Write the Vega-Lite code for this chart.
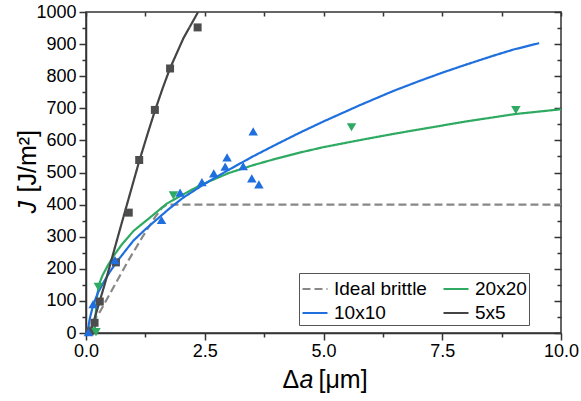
{
  "$schema": "https://vega.github.io/schema/vega-lite/v6.json",
  "width": 475,
  "height": 321,
  "autosize": {"type": "none"},
  "padding": {"left": 86, "top": 12, "right": 20, "bottom": 68},
  "config": {
    "view": {"stroke": "#333333", "strokeWidth": 1.5},
    "font": "Liberation Sans",
    "axis": {
      "grid": false,
      "domainColor": "#333333",
      "tickColor": "#333333",
      "domainWidth": 1.5,
      "tickWidth": 1.5,
      "labelFont": "Liberation Sans",
      "labelFontSize": 18,
      "labelColor": "#000000",
      "labelFlush": false,
      "labelOverlap": false,
      "titleFont": "Liberation Sans",
      "titleFontSize": 25,
      "titleColor": "#000000",
      "titleFontWeight": "normal"
    }
  },
  "datasets": {
    "curves": [
      {"series": "Ideal brittle", "a": 0, "J": 0},
      {"series": "Ideal brittle", "a": 0.3, "J": 68},
      {"series": "Ideal brittle", "a": 0.6, "J": 148},
      {"series": "Ideal brittle", "a": 0.9, "J": 228},
      {"series": "Ideal brittle", "a": 1.2, "J": 302},
      {"series": "Ideal brittle", "a": 1.45, "J": 360},
      {"series": "Ideal brittle", "a": 1.6, "J": 390},
      {"series": "Ideal brittle", "a": 1.7, "J": 400},
      {"series": "Ideal brittle", "a": 10, "J": 400},
      {"series": "20x20", "a": 0.18, "J": 0},
      {"series": "20x20", "a": 0.2, "J": 50},
      {"series": "20x20", "a": 0.23, "J": 110},
      {"series": "20x20", "a": 0.27, "J": 150},
      {"series": "20x20", "a": 0.35, "J": 180},
      {"series": "20x20", "a": 0.45, "J": 208},
      {"series": "20x20", "a": 0.58, "J": 240},
      {"series": "20x20", "a": 0.75, "J": 275},
      {"series": "20x20", "a": 1.0, "J": 318},
      {"series": "20x20", "a": 1.35, "J": 360},
      {"series": "20x20", "a": 1.7, "J": 403},
      {"series": "20x20", "a": 2.0, "J": 428},
      {"series": "20x20", "a": 2.4, "J": 460},
      {"series": "20x20", "a": 3.0, "J": 498},
      {"series": "20x20", "a": 3.5, "J": 522},
      {"series": "20x20", "a": 4.0, "J": 543},
      {"series": "20x20", "a": 4.5, "J": 562},
      {"series": "20x20", "a": 5.0, "J": 579},
      {"series": "20x20", "a": 5.77, "J": 601},
      {"series": "20x20", "a": 6.5, "J": 621},
      {"series": "20x20", "a": 7.17, "J": 638},
      {"series": "20x20", "a": 8.0, "J": 659},
      {"series": "20x20", "a": 9.03, "J": 682},
      {"series": "20x20", "a": 10, "J": 697},
      {"series": "10x10", "a": 0.03, "J": 0},
      {"series": "10x10", "a": 0.08, "J": 45},
      {"series": "10x10", "a": 0.15, "J": 87},
      {"series": "10x10", "a": 0.25, "J": 125},
      {"series": "10x10", "a": 0.36, "J": 155},
      {"series": "10x10", "a": 0.5, "J": 190},
      {"series": "10x10", "a": 0.65, "J": 222},
      {"series": "10x10", "a": 0.85, "J": 260},
      {"series": "10x10", "a": 1.0, "J": 288},
      {"series": "10x10", "a": 1.25, "J": 323},
      {"series": "10x10", "a": 1.5, "J": 355},
      {"series": "10x10", "a": 1.75, "J": 387},
      {"series": "10x10", "a": 2.05, "J": 422},
      {"series": "10x10", "a": 2.5, "J": 465},
      {"series": "10x10", "a": 3.0, "J": 508},
      {"series": "10x10", "a": 3.5, "J": 549},
      {"series": "10x10", "a": 4.0, "J": 587},
      {"series": "10x10", "a": 4.5, "J": 624},
      {"series": "10x10", "a": 5.0, "J": 659},
      {"series": "10x10", "a": 5.77, "J": 710},
      {"series": "10x10", "a": 6.47, "J": 754},
      {"series": "10x10", "a": 7.0, "J": 784},
      {"series": "10x10", "a": 7.52, "J": 812},
      {"series": "10x10", "a": 8.0, "J": 836},
      {"series": "10x10", "a": 8.58, "J": 864},
      {"series": "10x10", "a": 9.0, "J": 883},
      {"series": "10x10", "a": 9.54, "J": 903},
      {"series": "5x5", "a": 0.08, "J": 0},
      {"series": "5x5", "a": 0.15, "J": 30},
      {"series": "5x5", "a": 0.22, "J": 65},
      {"series": "5x5", "a": 0.29, "J": 100},
      {"series": "5x5", "a": 0.4, "J": 155},
      {"series": "5x5", "a": 0.55, "J": 235},
      {"series": "5x5", "a": 0.7, "J": 315},
      {"series": "5x5", "a": 0.9, "J": 420},
      {"series": "5x5", "a": 1.12, "J": 535},
      {"series": "5x5", "a": 1.3, "J": 622},
      {"series": "5x5", "a": 1.45, "J": 692},
      {"series": "5x5", "a": 1.62, "J": 765},
      {"series": "5x5", "a": 1.77, "J": 825},
      {"series": "5x5", "a": 2.05, "J": 918},
      {"series": "5x5", "a": 2.36, "J": 1000}
    ],
    "sq": [
      {"a": 0.08, "J": 5},
      {"a": 0.18, "J": 32},
      {"a": 0.29, "J": 98},
      {"a": 0.63, "J": 220},
      {"a": 0.9, "J": 375},
      {"a": 1.12, "J": 539},
      {"a": 1.45, "J": 695},
      {"a": 1.77, "J": 824},
      {"a": 2.35, "J": 952}
    ],
    "up": [
      {"a": 0.05, "J": 3},
      {"a": 0.15, "J": 90},
      {"a": 0.61, "J": 227},
      {"a": 1.59, "J": 352},
      {"a": 1.98, "J": 437},
      {"a": 2.44, "J": 470},
      {"a": 2.69, "J": 497},
      {"a": 2.93, "J": 518},
      {"a": 2.97, "J": 547},
      {"a": 3.31, "J": 520},
      {"a": 3.52, "J": 628},
      {"a": 3.49, "J": 482},
      {"a": 3.64, "J": 463}
    ],
    "down": [
      {"a": 0.21, "J": 3},
      {"a": 0.26, "J": 144},
      {"a": 1.84, "J": 429},
      {"a": 5.59, "J": 641},
      {"a": 9.05, "J": 694}
    ]
  },
  "layer": [
    {
      "data": {"name": "curves"},
      "mark": {"type": "line", "strokeWidth": 2.2, "clip": true},
      "encoding": {
        "x": {
          "field": "a", "type": "quantitative",
          "scale": {"domain": [0, 10], "nice": false},
          "axis": {
            "orient": "bottom", "values": [0, 2.5, 5, 7.5, 10], "format": ".1f", "tickSize": 7, "labelPadding": 2,
            "title": "Δ", "titleFontStyle": "normal", "titleX": 196, "titleY": 54,
            "titleAlign": "left", "titleBaseline": "alphabetic", "titleAngle": 0
          }
        },
        "y": {
          "field": "J", "type": "quantitative",
          "scale": {"domain": [0, 1000], "nice": false},
          "axis": {
            "orient": "left", "values": [0, 100, 200, 300, 400, 500, 600, 700, 800, 900, 1000], "format": "d", "tickSize": 7, "labelPadding": 3,
            "title": "J", "titleFontStyle": "italic", "titleX": -51, "titleY": 201,
            "titleAngle": -90, "titleAlign": "left", "titleBaseline": "alphabetic"
          }
        },
        "color": {
          "field": "series", "type": "nominal",
          "scale": {"domain": ["Ideal brittle", "10x10", "20x20", "5x5"], "range": ["#888888", "#1f70de", "#2eaa62", "#444444"]},
          "legend": {
            "title": null, "orient": "none", "legendX": 213, "legendY": 261, "columns": 2,
            "symbolType": "stroke", "symbolSize": 625, "symbolStrokeWidth": 2.2,
            "labelFontSize": 19, "labelFont": "Liberation Sans", "labelColor": "#000000",
            "strokeColor": "#555555", "fillColor": "#ffffff", "padding": 2, "rowPadding": 0,
            "columnPadding": 12, "labelOffset": 5
          }
        },
        "strokeDash": {
          "field": "series", "type": "nominal",
          "scale": {"domain": ["Ideal brittle", "10x10", "20x20", "5x5"], "range": [[8, 4], [1, 0], [1, 0], [1, 0]]},
          "legend": {
            "title": null, "orient": "none", "legendX": 213, "legendY": 261, "columns": 2,
            "symbolType": "stroke", "symbolSize": 625, "symbolStrokeWidth": 2.2,
            "labelFontSize": 19, "labelFont": "Liberation Sans", "labelColor": "#000000",
            "strokeColor": "#555555", "fillColor": "#ffffff", "padding": 2, "rowPadding": 0,
            "columnPadding": 12, "labelOffset": 5
          }
        }
      }
    },
    {
      "data": {"name": "sq"},
      "mark": {"type": "point", "shape": "square", "filled": true, "color": "#4d4d4d", "size": 64, "opacity": 1},
      "encoding": {
        "x": {
          "field": "a", "type": "quantitative",
          "axis": {
            "orient": "bottom", "values": [1.25, 3.75, 6.25, 8.75], "labels": false, "domain": false, "tickSize": 4,
            "title": "a", "titleFontStyle": "italic", "titleX": 213, "titleY": 54,
            "titleAlign": "left", "titleBaseline": "alphabetic", "titleAngle": 0
          }
        },
        "y": {
          "field": "J", "type": "quantitative",
          "axis": {
            "orient": "left", "values": [50, 150, 250, 350, 450, 550, 650, 750, 850, 950], "labels": false, "domain": false, "tickSize": 4,
            "title": "[J/m²]", "titleFontStyle": "normal", "titleX": -51, "titleY": 180,
            "titleAngle": -90, "titleAlign": "left", "titleBaseline": "alphabetic"
          }
        }
      }
    },
    {
      "data": {"name": "up"},
      "mark": {"type": "point", "shape": "triangle-up", "filled": true, "color": "#1f70de", "size": 90, "opacity": 1},
      "encoding": {
        "x": {
          "field": "a", "type": "quantitative",
          "axis": {
            "orient": "top", "values": [0, 1.25, 2.5, 3.75, 5, 6.25, 7.5, 8.75, 10], "labels": false, "domain": false, "tickSize": -4,
            "title": "[μm]", "titleFontStyle": "normal", "titleX": 232, "titleY": 375,
            "titleAlign": "left", "titleBaseline": "alphabetic", "titleAngle": 0
          }
        },
        "y": {
          "field": "J", "type": "quantitative",
          "axis": {
            "orient": "right", "values": [0, 100, 200, 300, 400, 500, 600, 700, 800, 900, 1000], "labels": false, "domain": false,
            "tickSize": -7, "title": null
          }
        }
      }
    },
    {
      "data": {"name": "down"},
      "mark": {"type": "point", "shape": "triangle-down", "filled": true, "color": "#2eaa62", "size": 90, "opacity": 1},
      "encoding": {
        "x": {"field": "a", "type": "quantitative", "axis": null},
        "y": {
          "field": "J", "type": "quantitative",
          "axis": {
            "orient": "right", "values": [50, 150, 250, 350, 450, 550, 650, 750, 850, 950], "labels": false, "domain": false,
            "tickSize": -4, "title": null
          }
        }
      }
    }
  ],
  "resolve": {"axis": {"x": "independent", "y": "independent"}}
}
